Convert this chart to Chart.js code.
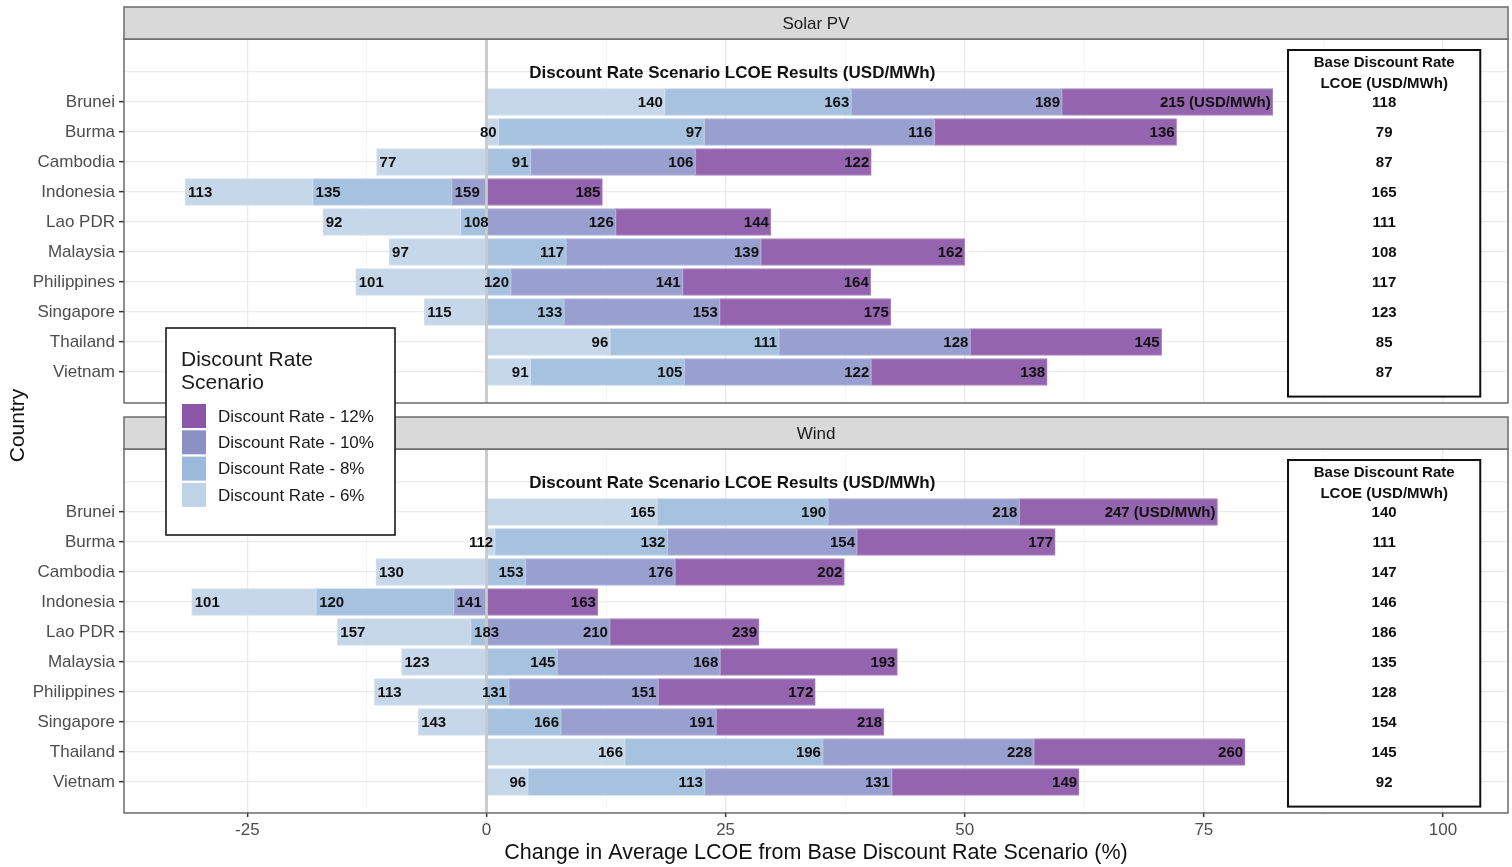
<!DOCTYPE html>
<html><head><meta charset="utf-8">
<script src="https://cdn.jsdelivr.net/npm/chart.js@4.4.1/dist/chart.umd.min.js"></script>
<style>html,body{margin:0;padding:0;background:#fff;}#wrap{position:relative;width:1512px;height:867px;}</style>
</head><body><div id="wrap"><canvas id="c" width="1512" height="867"></canvas></div>
<script>
// ---------------- data ----------------
const countries = ['Brunei','Burma','Cambodia','Indonesia','Lao PDR','Malaysia','Philippines','Singapore','Thailand','Vietnam'];
const panelNames = ['Solar PV','Wind'];
const scenarioLabels = ['Discount Rate - 6%','Discount Rate - 8%','Discount Rate - 10%','Discount Rate - 12%'];

const solarBase = [118, 79, 87, 165, 111, 108, 117, 123, 85, 87];
const solar6    = [140, 80, 77, 113,  92,  97, 101, 115, 96, 91];
const solar8    = [163, 97, 91, 135, 108, 117, 120, 133, 111, 105];
const solar10   = [189, 116, 106, 159, 126, 139, 141, 153, 128, 122];
const solar12   = [215, 136, 122, 185, 144, 162, 164, 175, 145, 138];

const windBase  = [140, 111, 147, 146, 186, 135, 128, 154, 145, 92];
const wind6     = [165, 112, 130, 101, 157, 123, 113, 143, 166, 96];
const wind8     = [190, 132, 153, 120, 183, 145, 131, 166, 196, 113];
const wind10    = [218, 154, 176, 141, 210, 168, 151, 191, 228, 131];
const wind12    = [247, 177, 202, 163, 239, 193, 172, 218, 260, 149];

const xTickValues = [-25, -12.5, 0, 12.5, 25, 37.5, 50, 62.5, 75, 87.5, 100];
const xTickLabels = ['-25', '0', '25', '50', '75', '100'];

const chartTitle = 'Discount Rate Scenario LCOE Results (USD/MWh)';
const baseHeader = ['Base Discount Rate', 'LCOE (USD/MWh)'];
const unitSuffix = ' (USD/MWh)';
const legendTitle = ['Discount Rate', 'Scenario'];
const xTitle = 'Change in Average LCOE from Base Discount Rate Scenario (%)';
const yTitle = 'Country';

// ---------------- styling ----------------
const barColors    = ['#c6d7ea', '#a6c2df', '#999fcf', '#9564ae'];
const barBorders   = ['#d3e0ef', '#b6cde6', '#aeb3d9', '#ad86c2'];
const legendColors = ['#bed2e8', '#9bbadb', '#8c91c5', '#8b56a8'];
const FONT = '"Liberation Sans", Arial, Helvetica, sans-serif';

const panels = [
  {name: panelNames[0], base: solarBase, vals: [solar6, solar8, solar10, solar12], row0: 0},
  {name: panelNames[1], base: windBase,  vals: [wind6, wind8, wind10, wind12], row0: 13.667}
];
const Y_MIN = -1.1, Y_MAX = 13.667 + 11.0;
const PANEL_TOP_OFF = -1.1, PANEL_BOT_OFF = 11.033;

function pct(v, b) { return (v - b) / b * 100; }

// build datasets (floating segments per scenario)
const datasets = [];
panels.forEach((p, pi) => {
  const pcts = p.vals.map(arr => arr.map((v, i) => pct(v, p.base[i])));
  p.pcts = pcts;
  for (let k = 0; k < 4; k++) {
    const data = countries.map((c, i) => {
      const v = pcts[k][i];
      let seg;
      if (v >= 0) {
        const s = k === 0 ? 0 : Math.max(pcts[k - 1][i], 0);
        seg = [s, v];
      } else {
        const e = k === 3 ? 0 : Math.min(pcts[k + 1][i], 0);
        seg = [v, e];
      }
      return {x: seg, y: p.row0 + i + 1};
    });
    datasets.push({
      label: scenarioLabels[k],
      data: data,
      backgroundColor: barColors[k],
      borderColor: barBorders[k],
      borderWidth: 1,
      borderSkipped: false,
      grouped: false,
      barThickness: 27
    });
  }
});

const yTickRows = [];
const yTickText = {};
panels.forEach(p => {
  yTickRows.push(p.row0); yTickText[p.row0.toFixed(3)] = '';
  countries.forEach((c, i) => { yTickRows.push(p.row0 + i + 1); yTickText[(p.row0 + i + 1).toFixed(3)] = c; });
});

const decorPlugin = {
  id: 'decor',
  beforeDatasetsDraw(chart) {
    const {ctx, chartArea: a, scales: {y}} = chart;
    ctx.save();
    ctx.fillStyle = '#ffffff';
    const g1 = y.getPixelForValue(PANEL_BOT_OFF), g2 = y.getPixelForValue(panels[1].row0 + PANEL_TOP_OFF);
    ctx.fillRect(a.left - 1, g1, a.right - a.left + 3, g2 - g1);
    ctx.restore();
  },
  afterDatasetsDraw(chart) {
    const {ctx, chartArea: a, scales: {x, y}} = chart;
    ctx.save();
    panels.forEach(p => {
      const top = y.getPixelForValue(p.row0 + PANEL_TOP_OFF);
      const bot = y.getPixelForValue(p.row0 + PANEL_BOT_OFF);
      // zero line
      ctx.strokeStyle = 'rgba(200,200,200,0.9)';
      ctx.lineWidth = 3;
      ctx.beginPath();
      const x0 = x.getPixelForValue(0);
      ctx.moveTo(x0, top); ctx.lineTo(x0, bot); ctx.stroke();

      // bar labels
      ctx.fillStyle = '#111111';
      ctx.font = 'bold 15px ' + FONT;
      ctx.textBaseline = 'middle';
      for (let k = 0; k < 4; k++) {
        countries.forEach((c, i) => {
          const v = p.pcts[k][i];
          const px = x.getPixelForValue(v);
          const py = y.getPixelForValue(p.row0 + i + 1);
          let txt = String(p.vals[k][i]);
          if (i === 0 && k === 3) txt += unitSuffix;
          if (v >= 0) { ctx.textAlign = 'right'; ctx.fillText(txt, px - 2, py + 1); }
          else { ctx.textAlign = 'left'; ctx.fillText(txt, px + 3, py + 1); }
        });
      }
      // panel title
      ctx.font = 'bold 17px ' + FONT;
      ctx.textAlign = 'center';
      ctx.fillText(chartTitle, x.getPixelForValue(25.7), y.getPixelForValue(p.row0) + 1);

      // base box
      const bx1 = x.getPixelForValue(83.8), bx2 = x.getPixelForValue(103.9);
      const by1 = y.getPixelForValue(p.row0 - 0.733), by2 = y.getPixelForValue(p.row0 + 10.82);
      ctx.fillStyle = '#ffffff';
      ctx.fillRect(bx1, by1, bx2 - bx1, by2 - by1);
      ctx.strokeStyle = '#111111';
      ctx.lineWidth = 2;
      ctx.strokeRect(bx1, by1, bx2 - bx1, by2 - by1);
      ctx.fillStyle = '#111111';
      ctx.font = 'bold 15px ' + FONT;
      const bcx = (bx1 + bx2) / 2;
      ctx.fillText(baseHeader[0], bcx, y.getPixelForValue(p.row0 - 0.35) + 1);
      ctx.fillText(baseHeader[1], bcx, y.getPixelForValue(p.row0 + 0.37) + 1);
      p.base.forEach((b, i) => ctx.fillText(String(b), bcx, y.getPixelForValue(p.row0 + i + 1) + 1));

      // panel border
      ctx.strokeStyle = '#6b6b6b';
      ctx.lineWidth = 1.5;
      ctx.strokeRect(a.left, top, a.right - a.left, bot - top);
      // strip
      const sTop = top - 32;
      ctx.fillStyle = '#d9d9d9';
      ctx.fillRect(a.left, sTop, a.right - a.left, 32);
      ctx.strokeRect(a.left, sTop, a.right - a.left, 32);
      ctx.fillStyle = '#1a1a1a';
      ctx.font = '17px ' + FONT;
      ctx.textAlign = 'center';
      ctx.fillText(p.name, (a.left + a.right) / 2, sTop + 17);
    });

    // legend
    const lx = 166, ly = 328, lw = 229, lh = 207;
    ctx.fillStyle = '#ffffff';
    ctx.fillRect(lx, ly, lw, lh);
    ctx.strokeStyle = '#1a1a1a';
    ctx.lineWidth = 1.6;
    ctx.strokeRect(lx, ly, lw, lh);
    ctx.fillStyle = '#1a1a1a';
    ctx.textAlign = 'left';
    ctx.textBaseline = 'middle';
    ctx.font = '21px ' + FONT;
    ctx.fillText(legendTitle[0], 181, 360);
    ctx.fillText(legendTitle[1], 181, 383);
    ctx.font = '17px ' + FONT;
    for (let j = 0; j < 4; j++) {
      const k = 3 - j;
      const cy = 416 + j * 26.3;
      ctx.fillStyle = legendColors[k];
      ctx.fillRect(182, cy - 12, 24, 24);
      ctx.fillStyle = '#1a1a1a';
      ctx.fillText(scenarioLabels[k], 218, cy + 1);
    }
    ctx.restore();
  }
};

new Chart(document.getElementById('c'), {
  type: 'bar',
  data: {datasets: datasets},
  plugins: [decorPlugin],
  options: {
    indexAxis: 'y',
    responsive: false,
    animation: false,
    events: [],
    layout: {padding: {top: 39, right: 4, left: 0, bottom: 0}},
    plugins: {legend: {display: false}, tooltip: {enabled: false}, title: {display: false}},
    scales: {
      x: {
        type: 'linear',
        min: -37.9, max: 106.8,
        offset: false,
        afterBuildTicks: s => { s.ticks = xTickValues.map(v => ({value: v})); },
        afterFit: s => { s.height = 55; s.paddingLeft = 0; s.paddingRight = 0; },
        border: {display: false},
        grid: {
          offset: false,
          color: c => (c.tick && c.tick.value % 25 === 0) ? '#ebebeb' : '#f3f3f3',
          lineWidth: c => (c.tick && c.tick.value % 25 === 0) ? 1.3 : 0.8,
          drawTicks: true,
          tickLength: 5,
          tickColor: c => (c.tick && c.tick.value % 25 === 0) ? '#333333' : 'rgba(0,0,0,0)',
          tickWidth: 1.5
        },
        ticks: {
          autoSkip: false, maxRotation: 0, padding: 3,
          color: '#4d4d4d',
          font: {family: FONT, size: 17},
          callback: v => { const s = String(v); return xTickLabels.includes(s) ? s : ''; }
        },
        title: {display: true, text: xTitle, color: '#111111', font: {family: FONT, size: 21.5}, padding: {top: 0, bottom: 1.2}}
      },
      y: {
        type: 'linear',
        reverse: true,
        offset: false,
        min: Y_MIN, max: Y_MAX,
        afterBuildTicks: s => { s.ticks = yTickRows.map(v => ({value: v})); },
        afterFit: s => { s.width = 124; s.paddingTop = 0; s.paddingBottom = 0; },
        border: {display: false},
        grid: {
          offset: false,
          color: '#ebebeb',
          lineWidth: 1.3,
          drawTicks: true,
          tickLength: 5,
          tickColor: c => (c.tick && yTickText[c.tick.value.toFixed(3)]) ? '#333333' : 'rgba(0,0,0,0)',
          tickWidth: 1.5
        },
        ticks: {
          autoSkip: false, padding: 4,
          color: '#4d4d4d',
          font: {family: FONT, size: 17},
          callback: v => yTickText[Number(v).toFixed(3)] || ''
        },
        title: {display: true, text: yTitle, color: '#111111', font: {family: FONT, size: 21}, padding: {top: 5.4, bottom: 0}}
      }
    }
  }
});
</script></body></html>
